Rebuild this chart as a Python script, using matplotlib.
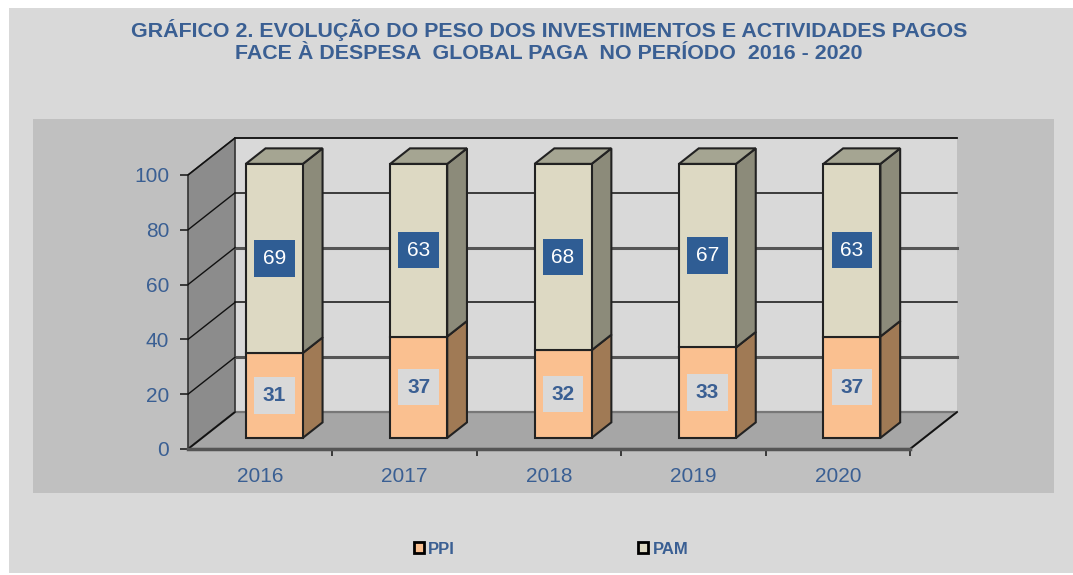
"""
Gráfico 2 – peso dos investimentos (PPI) e actividades (PAM) pagos
face à despesa global paga, 2016-2020. Barras empilhadas em pseudo-3D.
"""

import matplotlib.pyplot as plt
from matplotlib.patches import Polygon, Patch, Rectangle

# ── Dados ─────────────────────────────────────────────────────────────────────
years = ["2016", "2017", "2018", "2019", "2020"]
ppi   = [31, 37, 32, 33, 37]
pam   = [69, 63, 68, 67, 63]
series_names = ["PPI", "PAM"]
title = ("GRÁFICO 2. EVOLUÇÃO DO PESO DOS INVESTIMENTOS E ACTIVIDADES PAGOS\n"
         "FACE À DESPESA  GLOBAL PAGA  NO PERÍODO  2016 - 2020")

# ── Estilo ────────────────────────────────────────────────────────────────────
W, H = 1073, 575
BLUE      = "#3a5f93"
BOX_BLUE  = "#2f5d94"
C_FRONT   = {"PPI": "#fac090", "PAM": "#ddd9c3"}
C_SIDE    = {"PPI": "#a07a55", "PAM": "#8c8b7a"}
C_TOP     = {"PPI": "#c8a078", "PAM": "#a5a592"}
EDGE      = "#222222"

DX, DY = 0.3255, 13.5   # profundidade total (em unidades dos eixos)
D0, D1 = 0.30, 0.72     # frente / fundo das barras (fração da profundidade)
BW     = 0.395          # largura da barra

plt.rcParams["font.family"] = ["Liberation Sans", "DejaVu Sans"]

fig = plt.figure(figsize=(W / 100, H / 100), dpi=100)
fig.patch.set_facecolor("white")
fig.patches.append(Rectangle((9 / W, 2 / H), 1 - 9 / W, 565 / H,
                             transform=fig.transFigure, fc="#d9d9d9", ec="none", zorder=-2))
fig.patches.append(Rectangle((33 / W, 82 / H), 1021 / W, 374 / H,
                             transform=fig.transFigure, fc="#c0c0c0", ec="none", zorder=-1))

ax = fig.add_axes([188 / W, 126 / H, 722 / W, 274 / H])
ax.set_xlim(0, len(years))
ax.set_ylim(0, 100)
ax.patch.set_visible(False)
for s in ax.spines.values():
    s.set_visible(False)

n = len(years)

# ── Paredes e chão ────────────────────────────────────────────────────────────
ax.add_patch(Polygon([(DX, DY), (n + DX, DY), (n + DX, 100 + DY), (DX, 100 + DY)],
                     closed=True, fc="#d9d9d9", ec="none", clip_on=False, zorder=1))
ax.add_patch(Polygon([(0, 0), (DX, DY), (DX, 100 + DY), (0, 100)],
                     closed=True, fc="#8c8c8c", ec="#333333", lw=1.2, clip_on=False, zorder=1))
ax.add_patch(Polygon([(0, 0), (n, 0), (n + DX, DY), (DX, DY)],
                     closed=True, fc="#a6a6a6", ec="#555555", lw=1.5, clip_on=False, zorder=1))
ax.plot([DX, n + DX], [100 + DY, 100 + DY], color="#333333", lw=1.2, clip_on=False, zorder=1.5)
ax.plot([DX, n + DX], [DY, DY], color="#777777", lw=1.5, clip_on=False, zorder=1.5)
ax.plot([0, DX], [0, DY], color="#111111", lw=1.2, clip_on=False, zorder=1.6)
ax.plot([n, n + DX], [0, DY], color="#111111", lw=1.2, clip_on=False, zorder=1.6)
ax.plot([0, n], [0, 0], color="#555555", lw=2.5, clip_on=False, zorder=1.6)

grid_vals = [20, 40, 60, 80, 100]
for v in grid_vals:
    thick = v in (20, 60)
    ax.plot([DX, n + DX], [v + DY, v + DY], color="#555555" if thick else "#111111",
            lw=2.2 if thick else 1.1, clip_on=False, zorder=1.5)
    ax.plot([0, DX], [v, v + DY], color="#111111", lw=1.0, clip_on=False, zorder=1.5)

# ── Barras ────────────────────────────────────────────────────────────────────
dd = D1 - D0
for i in range(n):
    cx = i + 0.5
    x0 = cx - BW / 2 + D0 * DX
    x1 = cx + BW / 2 + D0 * DX
    segs = [("PPI", 0, ppi[i]), ("PAM", ppi[i], ppi[i] + pam[i])]
    for k, (name, lo, hi) in enumerate(segs):
        yb = lo + D0 * DY
        yt = hi + D0 * DY
        ax.add_patch(Polygon([(x1, yb), (x1 + dd * DX, yb + dd * DY),
                              (x1 + dd * DX, yt + dd * DY), (x1, yt)],
                             closed=True, fc=C_SIDE[name], ec=EDGE, lw=1.5,
                             clip_on=False, zorder=3))
        if k == len(segs) - 1:
            ax.add_patch(Polygon([(x0, yt), (x1, yt), (x1 + dd * DX, yt + dd * DY),
                                  (x0 + dd * DX, yt + dd * DY)],
                                 closed=True, fc=C_TOP[name], ec=EDGE, lw=1.5,
                                 clip_on=False, zorder=3))
        ax.add_patch(Polygon([(x0, yb), (x1, yb), (x1, yt), (x0, yt)],
                             closed=True, fc=C_FRONT[name], ec=EDGE, lw=1.5,
                             clip_on=False, zorder=3.5))
        ym = (lo + hi) / 2 + D0 * DY
        if name == "PAM":
            ax.text(cx + D0 * DX, ym, f"{pam[i]}", ha="center", va="center",
                    fontsize=15, color="white", zorder=5,
                    bbox=dict(boxstyle="square,pad=0.42", fc=BOX_BLUE, ec="none"))
        else:
            ax.text(cx + D0 * DX, ym, f"{ppi[i]}", ha="center", va="center",
                    fontsize=15, color=BLUE, fontweight="bold", zorder=5,
                    bbox=dict(boxstyle="square,pad=0.42", fc="#d9d9d9", ec="none"))

# ── Eixos ─────────────────────────────────────────────────────────────────────
ax.set_yticks(range(0, 101, 20))
ax.tick_params(axis="y", direction="out", length=6, width=1.2, color="#222222",
               labelsize=15, labelcolor=BLUE, pad=7.5)
ax.set_xticks([i + 0.5 for i in range(n)], labels=years)
ax.set_xticks(range(1, n + 1), minor=True)
ax.tick_params(axis="x", which="major", length=0, labelsize=15, labelcolor=BLUE, pad=13)
ax.tick_params(axis="x", which="minor", direction="out", length=5, width=1.2, color="#222222")

# ── Título e legenda ──────────────────────────────────────────────────────────
fig.text(549 / W, 1 - 41 / H, title, ha="center", va="center", fontsize=15.4,
         fontweight="bold", color=BLUE, linespacing=1.15)

handles = [Patch(fc=C_FRONT[s], ec="black", lw=2) for s in series_names]
fig.legend(handles, series_names, loc="center", bbox_to_anchor=(551 / W, 1 - 549 / H),
           ncol=2, frameon=False, handlelength=0.6, handleheight=0.6,
           handletextpad=0.25, columnspacing=11, labelcolor=BLUE,
           prop={"size": 12, "weight": "bold"})

fig.savefig("out.png", dpi=100)
